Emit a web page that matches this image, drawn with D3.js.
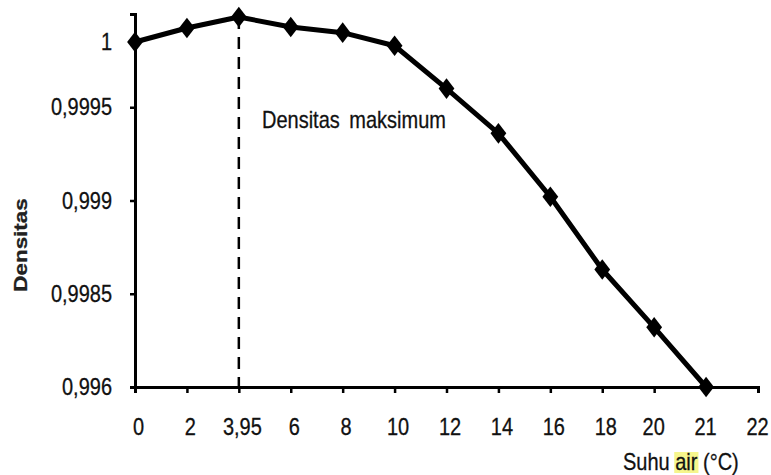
<!DOCTYPE html>
<html>
<head>
<meta charset="utf-8">
<script src="https://cdn.jsdelivr.net/npm/d3@7"></script>
<style>
  html, body { margin: 0; padding: 0; background: #fff; }
  svg { display: block; font-family: "Liberation Sans", Arial, Helvetica, sans-serif; }
  .st { transform-box: fill-box; transform-origin: center; transform: scaleY(1.18); }
  .stx { transform-box: fill-box; transform-origin: center; transform: scaleX(1.18); }
  text { stroke: #111; stroke-width: 0.25px; }
</style>
</head>
<body>
<svg id="chart" width="771" height="475"></svg>
<script>
// ---- data ----
const categories = ["0", "2", "3,95", "6", "8", "10", "12", "14", "16", "18", "20", "21", "22"];
const pointCategories = ["0", "2", "3,95", "6", "8", "10", "12", "14", "16", "18", "20", "21"];
const densityValues = [0.99985, 0.999925, 0.999984, 0.99993, 0.99990, 0.99983, 0.99960, 0.99936, 0.99902, 0.99863, 0.99832, 0.99800];
const yTickValues = [0.998, 0.9985, 0.999, 0.9995, 1.0];
const yLabelValues = [0.998, 0.9985, 0.999, 0.9995, 0.99985];
const yLabelTexts = ["0,996", "0,9985", "0,999", "0,9995", "1"];
const maxCategory = "3,95";
const maxValue = 0.999984;
const annotationText = "Densitas maksimum";
const yTitle = "Densitas";
const xTitleParts = ["Suhu ", "air", " (°C)"];

(function () {
// ---- layout ----
const svg = d3.select("#chart");
const mLeft = 135, mRight = 758, mTop = 14, mBottom = 387;
const FS = 20;

const x = d3.scalePoint().domain(categories).range([mLeft, mRight]);
const y = d3.scaleLinear().domain([0.998, 1.0]).range([mBottom, mTop]);

// dashed maximum line
svg.append("line")
  .attr("x1", x(maxCategory)).attr("x2", x(maxCategory))
  .attr("y1", y(maxValue)).attr("y2", mBottom)
  .attr("stroke", "#000").attr("stroke-width", 2.5)
  .attr("stroke-dasharray", "12,8");

// x axis
const xAxis = svg.append("g")
  .attr("transform", `translate(0,${mBottom})`)
  .call(d3.axisBottom(x).tickSize(6).tickPadding(27));
xAxis.select(".domain").attr("stroke", "#000").attr("stroke-width", 3);
xAxis.selectAll(".tick line").attr("stroke", "#000").attr("stroke-width", 2.5);
xAxis.selectAll(".tick text")
  .attr("class", "st")
  .attr("dx", (d, i) => (i < 10 ? 3 : -1))
  .attr("font-size", FS).attr("fill", "#111")
  .style("font-family", '"Liberation Sans", Arial, sans-serif');

// y axis (tick marks)
const yAxis = svg.append("g")
  .attr("transform", `translate(${mLeft},0)`)
  .call(d3.axisLeft(y).tickValues(yTickValues).tickSize(5).tickFormat(""));
yAxis.select(".domain").attr("stroke", "#000").attr("stroke-width", 3);
yAxis.selectAll(".tick line").attr("stroke", "#000").attr("stroke-width", 2.5);

// y axis labels
const yLab = svg.append("g")
  .attr("transform", `translate(${mLeft},0)`)
  .call(d3.axisLeft(y).tickValues(yLabelValues).tickSize(0).tickPadding(23)
        .tickFormat((d, i) => yLabelTexts[i]));
yLab.select(".domain").remove();
yLab.selectAll(".tick text")
  .attr("class", "st")
  .attr("font-size", FS).attr("fill", "#111")
  .style("font-family", '"Liberation Sans", Arial, sans-serif');

// line
const pts = pointCategories.map((c, i) => ({c, v: densityValues[i]}));
svg.append("path")
  .datum(pts)
  .attr("fill", "none")
  .attr("stroke", "#000")
  .attr("stroke-width", 5)
  .attr("stroke-linejoin", "round")
  .attr("d", d3.line().x(d => x(d.c)).y(d => y(d.v)));

// markers
svg.append("g").selectAll("path")
  .data(pts)
  .join("path")
  .attr("d", d3.symbol(d3.symbolSquare, 125)())
  .attr("transform", d => `translate(${x(d.c)},${y(d.v)}) scale(1,1.3) rotate(45)`)
  .attr("fill", "#000");

// annotation
svg.append("text")
  .attr("class", "st")
  .attr("x", 262).attr("y", 127)
  .attr("font-size", FS).attr("fill", "#111")
  .attr("word-spacing", 4)
  .text(annotationText);

// y title
svg.append("g")
  .attr("transform", "translate(27,245) rotate(-90)")
  .append("text")
  .attr("class", "stx")
  .attr("text-anchor", "middle")
  .attr("font-size", 19).attr("font-weight", "bold").attr("fill", "#222")
  .text(yTitle);

// x title with highlighted "air"
const hl = svg.append("rect").attr("fill", "#f6f68c");
const xt = svg.append("text")
  .attr("class", "st")
  .attr("x", 623).attr("y", 469)
  .attr("font-size", FS).attr("fill", "#111")
  .style("white-space", "pre");
xTitleParts.forEach(p => xt.append("tspan").text(p));
const node = xt.node();
const s0 = xTitleParts[0].length;
const x0 = node.getStartPositionOfChar(s0).x;
const w = node.getSubStringLength(s0, xTitleParts[1].length);
hl.attr("x", x0 - 1).attr("width", w + 2).attr("y", 452).attr("height", 21);
})();
</script>
</body>
</html>
